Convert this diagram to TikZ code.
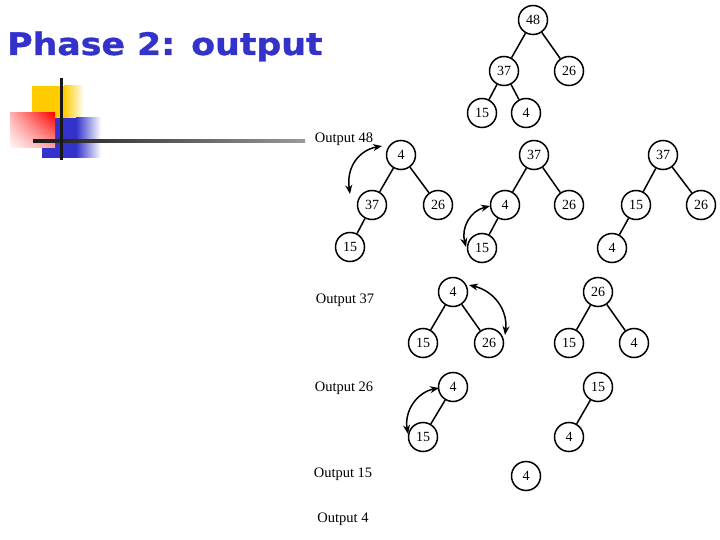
\documentclass[tikz,border=0pt]{standalone}
\usepackage{fontspec}
\setmainfont{Liberation Serif}
\newfontfamily\titlefont{DejaVu Sans}[BoldFeatures={FakeBold=1}]
\usetikzlibrary{arrows.meta,shadings}
\definecolor{titleblue}{HTML}{3333CC}
\definecolor{decoyellow}{HTML}{FFCC00}
\definecolor{decoblue}{HTML}{3333CC}
\tikzset{
  hn/.style={circle,draw,line width=1.5pt,minimum size=29pt,inner sep=0pt,font=\fontsize{14}{16}\selectfont},
  lbl/.style={font=\fontsize{14.5}{16}\selectfont,inner sep=0pt},
  edge/.style={line width=1.5pt},
  swap/.style={line width=1.5pt,{Stealth[length=9pt,width=7pt]}-{Stealth[length=9pt,width=7pt]}}
}
\begin{document}
\begin{tikzpicture}[x=1pt,y=-1pt]
\useasboundingbox (0,0) rectangle (720,540);
% decoration
\fill[decoyellow] (32,86) rectangle (64,118);
\shade[left color=decoyellow,right color=white] (64,86) rectangle (84,118);
\fill[decoblue] (42,118) rectangle (76,158);
\shade[left color=decoblue,right color=white] (76,118) rectangle (101,158);
\shade[upper right=red,upper left=red!30,lower right=red!35,lower left=red!3] (10,113) rectangle (55,148);
\shade[left color=black!90,right color=black!40] (33,139.7) rectangle (305,142.3);
\fill[black!90] (60.3,78) rectangle (62.8,160);
% title
\node[anchor=base west,inner sep=0pt,text=titleblue,font=\titlefont\bfseries\fontsize{31}{34}\selectfont] (title) at (7,55) {\scalebox{1.12}[1]{Phase 2: output}};
% top tree
\node[hn] (a48) at (533,20) {48};
\node[hn] (a37) at (504,71) {37};
\node[hn] (a26) at (569,71) {26};
\node[hn] (a15) at (482,113) {15};
\node[hn] (a4) at (526,113) {4};
\draw[edge] (a48)--(a37) (a48)--(a26) (a37)--(a15) (a37)--(a4);
% labels
\node[lbl] (o48) at (344,139) {Output 48};
\node[lbl] (o37) at (345,300) {Output 37};
\node[lbl] (o26) at (344,388) {Output 26};
\node[lbl] (o15) at (343,474) {Output 15};
\node[lbl] (o4) at (343,519) {Output 4};
% row 2 tree 1
\node[hn] (b4) at (401,155) {4};
\node[hn] (b37) at (372,205) {37};
\node[hn] (b26) at (438,205) {26};
\node[hn] (b15) at (350,247) {15};
\draw[edge] (b4)--(b37) (b4)--(b26) (b37)--(b15);
\coordinate (s1a) at (382,146);
\coordinate (s1b) at (350,194);
\draw[swap] (s1a) .. controls (360,150) and (346,166) .. (s1b);
% row 2 tree 2
\node[hn] (c37) at (534,155) {37};
\node[hn] (c4) at (505,205) {4};
\node[hn] (c26) at (569,205) {26};
\node[hn] (c15) at (482,248) {15};
\draw[edge] (c37)--(c4) (c37)--(c26) (c4)--(c15);
\coordinate (s2a) at (490,206);
\coordinate (s2b) at (466,247);
\draw[swap] (s2a) .. controls (470,211) and (461,228) .. (s2b);
% row 2 tree 3
\node[hn] (d37) at (663,155) {37};
\node[hn] (d15) at (636,205) {15};
\node[hn] (d26) at (701,205) {26};
\node[hn] (d4) at (612,248) {4};
\draw[edge] (d37)--(d15) (d37)--(d26) (d15)--(d4);
% row 3 tree 1
\node[hn] (e4) at (453,292) {4};
\node[hn] (e15) at (423,343) {15};
\node[hn] (e26) at (489,343) {26};
\draw[edge] (e4)--(e15) (e4)--(e26);
\coordinate (s3a) at (469,285);
\coordinate (s3b) at (505,335);
\draw[swap] (s3a) .. controls (494,291) and (508,310) .. (s3b);
% row 3 tree 2
\node[hn] (f26) at (598,292) {26};
\node[hn] (f15) at (569,343) {15};
\node[hn] (f4) at (634,343) {4};
\draw[edge] (f26)--(f15) (f26)--(f4);
% row 4 tree 1
\node[hn] (g4) at (453,387) {4};
\node[hn] (g15) at (423,437) {15};
\draw[edge] (g4)--(g15);
\coordinate (s4a) at (439,388);
\coordinate (s4b) at (408,434);
\draw[swap] (s4a) .. controls (418,392) and (404,410) .. (s4b);
% row 4 tree 2
\node[hn] (h15) at (598,387) {15};
\node[hn] (h4) at (569,437) {4};
\draw[edge] (h15)--(h4);
% row 5
\node[hn] (i4) at (526,476) {4};
\end{tikzpicture}
\end{document}
